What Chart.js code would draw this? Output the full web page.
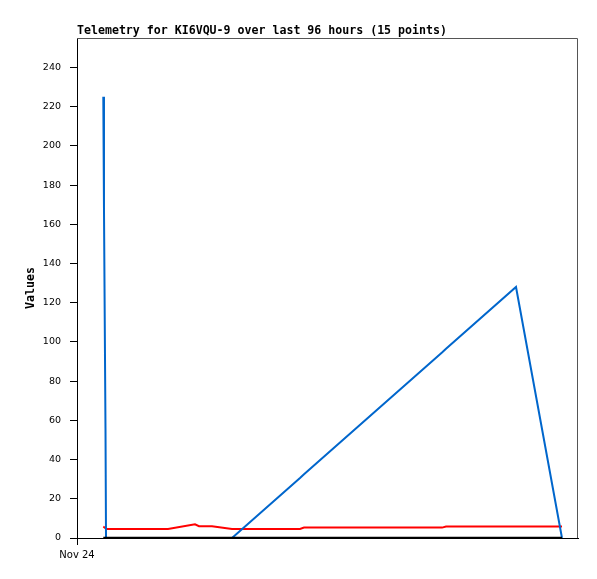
<!DOCTYPE html>
<html><head><meta charset="utf-8">
<script src="https://cdn.jsdelivr.net/npm/chart.js@4/dist/chart.umd.min.js"></script>
<style>html,body{margin:0;padding:0;background:#fff}canvas{display:block}</style>
</head><body>
<canvas id="c" width="597" height="579"></canvas>
<script>
// hours since Nov 24 00:00
const hours = [5.04, 5.17, 5.46, 5.56, 17.44, 22.61, 23.38, 25.87, 29.70, 42.73, 43.50, 69.94, 70.71, 84.12, 92.93];
const blueValues = [225, 168, 56, 0, 0, 0, 0, 0, 0, 30.6, 32.5, 94.6, 96.5, 128, 0];
const redValues = [5.8, 5.6, 5.0, 4.6, 4.6, 7.0, 6.0, 6.0, 4.6, 4.6, 5.3, 5.3, 5.9, 5.9, 5.9];
const blackValues = [0, 0, 0, 0, 0, 0, 0, 0, 0, 0, 0, 0, 0, 0, 0];
const yTickValues = [0, 20, 40, 60, 80, 100, 120, 140, 160, 180, 200, 220, 240];
const xTickHours = [0];
const xTickLabels = ['Nov 24'];
const titleText = 'Telemetry for KI6VQU-9 over last 96 hours (15 points)';
const yTitle = 'Values';

const pts = vals => hours.map((h, i) => ({x: h, y: vals[i]}));

const frame = {
  id: 'frame',
  afterDraw(chart) {
    const {ctx, chartArea: a} = chart;
    ctx.save();
    ctx.strokeStyle = '#555';
    ctx.lineWidth = 1;
    ctx.beginPath();
    ctx.moveTo(a.left, a.top + 0.5);
    ctx.lineTo(a.right - 0.5, a.top + 0.5);
    ctx.lineTo(a.right - 0.5, a.bottom);
    ctx.stroke();
    ctx.restore();
  }
};

new Chart(document.getElementById('c'), {
  type: 'line',
  data: {
    datasets: [
      {label: 'zero', data: pts(blackValues), borderColor: '#000', borderWidth: 2.5},
      {label: 'blue', data: pts(blueValues), borderColor: '#0066cc', borderWidth: 2},
      {label: 'red', data: pts(redValues), borderColor: '#ff0000', borderWidth: 2}
    ]
  },
  options: {
    responsive: false,
    animation: false,
    devicePixelRatio: 1,
    layout: {padding: {left: 0, right: 19, top: 0, bottom: 0}},
    elements: {point: {radius: 0}, line: {tension: 0}},
    plugins: {
      legend: {display: false},
      tooltip: {enabled: false},
      title: {
        display: true,
        text: titleText,
        align: 'start',
        fullSize: false,
        color: '#000',
        font: {family: 'DejaVu Sans Mono', size: 11.6, weight: 'bold', lineHeight: 1.207},
        padding: {top: 24, bottom: 0}
      }
    },
    scales: {
      x: {
        type: 'linear',
        min: 0,
        max: 96,
        afterBuildTicks: s => { s.ticks = xTickHours.map(v => ({value: v})); },
        afterFit: s => { s.height = 41; },
        ticks: {
          color: '#000',
          font: {family: 'DejaVu Sans', size: 10},
          padding: 4,
          maxRotation: 0,
          autoSkip: false,
          callback: (v, i) => xTickLabels[i]
        },
        grid: {drawOnChartArea: false, drawTicks: true, tickLength: 7, color: '#000'},
        border: {color: '#000', width: 1}
      },
      y: {
        min: 0,
        max: 255,
        afterBuildTicks: s => { s.ticks = yTickValues.map(v => ({value: v})); },
        afterFit: s => { s.width = 77; },
        ticks: {
          color: '#000',
          font: {family: 'DejaVu Sans', size: 9.5},
          padding: 9,
          callback: v => String(v)
        },
        grid: {drawOnChartArea: false, drawTicks: true, tickLength: 7, color: '#000'},
        border: {color: '#000', width: 1},
        title: {
          display: true,
          text: yTitle,
          color: '#000',
          font: {family: 'DejaVu Sans Mono', size: 11.6, weight: 'bold', lineHeight: 1.2},
          padding: {top: 24, bottom: 0}
        }
      }
    }
  },
  plugins: [frame]
});
</script>
</body></html>
